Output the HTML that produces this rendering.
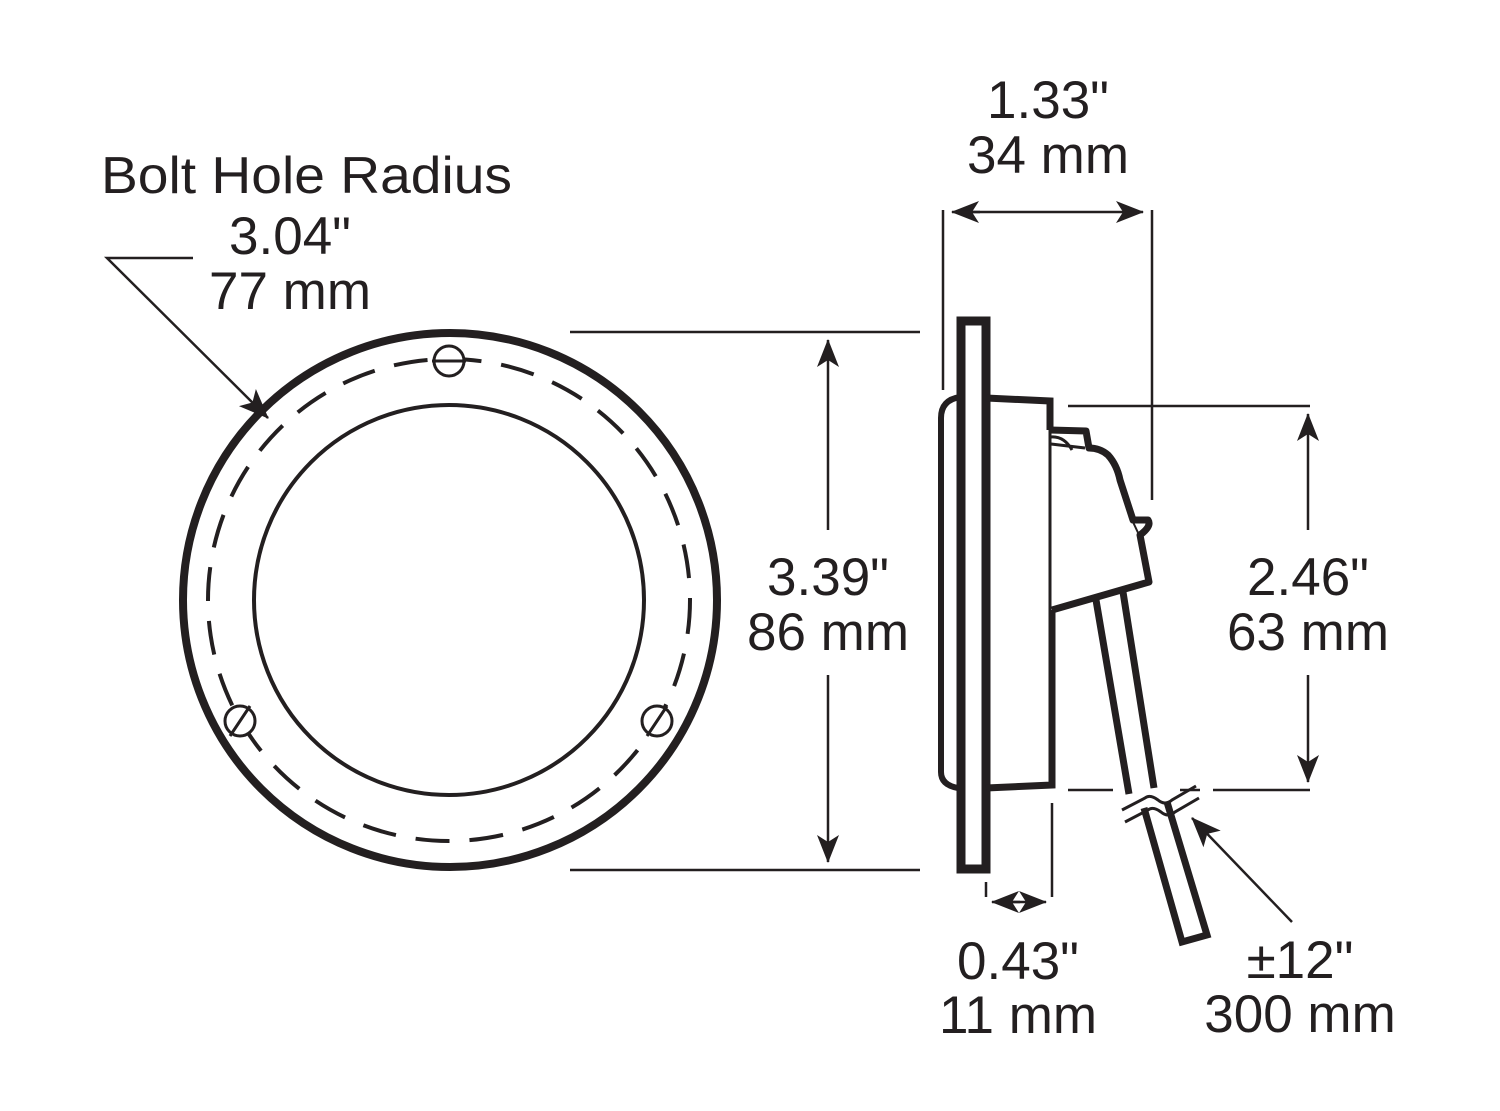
<!DOCTYPE html>
<html><head><meta charset="utf-8"><style>
html,body{margin:0;padding:0;background:#fff;}
svg{display:block;}
text{font-family:"Liberation Sans",Arial,sans-serif;fill:#231f20;}
</style></head><body>
<svg width="1500" height="1111" viewBox="0 0 1500 1111" xmlns="http://www.w3.org/2000/svg">
<defs>
<marker id="ah" viewBox="0 0 28 24" refX="27" refY="12" markerWidth="28" markerHeight="24" markerUnits="userSpaceOnUse" orient="auto">
<path d="M0,1 L28,12 L0,23 L7,12 Z" fill="#231f20"/></marker>
<marker id="ahL" viewBox="0 0 30 26" refX="29" refY="13" markerWidth="30" markerHeight="26" markerUnits="userSpaceOnUse" orient="auto">
<path d="M0,1 L30,13 L0,25 L7,13 Z" fill="#231f20"/></marker>
</defs>
<g stroke="#231f20" fill="none">
<circle cx="450" cy="600" r="267" stroke-width="8"/>
<circle cx="449" cy="600" r="195" stroke-width="4"/>
<circle cx="449" cy="600" r="241" stroke-width="4" stroke-dasharray="34,20"/>
<circle cx="449" cy="361" r="15" stroke-width="3" fill="#fff"/>
<line x1="432" y1="361" x2="466" y2="361" stroke-width="3"/>
<circle cx="240" cy="721" r="15" stroke-width="3" fill="#fff"/>
<line x1="230" y1="736" x2="250" y2="706" stroke-width="3"/>
<circle cx="657" cy="721" r="15" stroke-width="3" fill="#fff"/>
<line x1="647" y1="736" x2="667" y2="706" stroke-width="3"/>
<polyline points="193,258 107,258 268,418" stroke-width="2.5" marker-end="url(#ahL)"/>
<line x1="570" y1="332" x2="920" y2="332" stroke-width="2.5"/>
<line x1="570" y1="870" x2="920" y2="870" stroke-width="2.5"/>
<line x1="828" y1="530" x2="828" y2="340" stroke-width="2.5" marker-end="url(#ah)"/>
<line x1="828" y1="675" x2="828" y2="862" stroke-width="2.5" marker-end="url(#ah)"/>
<line x1="943" y1="210" x2="943" y2="390" stroke-width="2.5"/>
<line x1="1152" y1="210" x2="1152" y2="500" stroke-width="2.5"/>
<line x1="980" y1="212" x2="952" y2="212" stroke-width="2.5" marker-end="url(#ah)"/>
<line x1="960" y1="212" x2="1143" y2="212" stroke-width="2.5" marker-end="url(#ah)"/>
<line x1="1068" y1="406" x2="1310" y2="406" stroke-width="2.5"/>
<line x1="1068" y1="790" x2="1113" y2="790" stroke-width="2.5"/>
<line x1="1180" y1="790" x2="1200" y2="790" stroke-width="2.5"/>
<line x1="1213" y1="790" x2="1310" y2="790" stroke-width="2.5"/>
<line x1="1308" y1="530" x2="1308" y2="414" stroke-width="2.5" marker-end="url(#ah)"/>
<line x1="1308" y1="675" x2="1308" y2="782" stroke-width="2.5" marker-end="url(#ah)"/>
<line x1="1052" y1="803" x2="1052" y2="897" stroke-width="2.5"/>
<line x1="986" y1="882" x2="986" y2="897" stroke-width="2.5"/>
<line x1="1020" y1="902" x2="992" y2="902" stroke-width="2.5" marker-end="url(#ah)"/>
<line x1="1010" y1="902" x2="1046" y2="902" stroke-width="2.5" marker-end="url(#ah)"/>
<line x1="1292" y1="922" x2="1192" y2="818" stroke-width="2.5" marker-end="url(#ahL)"/>
<rect x="961" y="321" width="25" height="548" stroke-width="9"/>
<path d="M960,397 Q941,400 941,418 L941,772 Q941,785 958,788" stroke-width="6"/>
<line x1="961" y1="405" x2="961" y2="785" stroke-width="3"/>
<line x1="986" y1="405" x2="986" y2="785" stroke-width="3"/>
<path d="M986,398 L1050,401 L1050,430" stroke-width="7"/>
<path d="M986,788 L1052,785 L1052,610" stroke-width="7"/>
<line x1="1050" y1="430" x2="1050" y2="610" stroke-width="3"/>
<path d="M1050,430 L1086,431 L1089,448 Q1100,448 1108,455 Q1117,465 1120,480 L1133,520 L1148,520 Q1152,526 1140,535 L1149,582 L1052,610" stroke-width="7" stroke-linejoin="round"/>
<path d="M1051,437 Q1064,436 1072,450" stroke-width="3"/>
<line x1="1051" y1="444" x2="1085" y2="448" stroke-width="3"/>
<line x1="1133" y1="522" x2="1140" y2="537" stroke-width="2"/>
<path d="M1096,600 L1129,794 M1144,808 L1182,942 L1207,935 L1167,802 M1154,788 L1123,592" stroke-width="7"/>
<path d="M1122,810 L1145,798 Q1150,794 1158,800 Q1165,806 1172,800 L1196,786" stroke-width="3"/>
<path d="M1125,822 L1148,810 Q1153,806 1161,812 Q1168,818 1175,812 L1199,798" stroke-width="3"/>
</g>
<g font-size="53">
<text x="101" y="193" font-size="52" textLength="411" lengthAdjust="spacingAndGlyphs">Bolt Hole Radius</text>
<text x="290" y="254" text-anchor="middle">3.04"</text>
<text x="290" y="309" text-anchor="middle">77 mm</text>
<text x="1048" y="118" text-anchor="middle">1.33"</text>
<text x="1048" y="173" text-anchor="middle">34 mm</text>
<text x="828" y="595" text-anchor="middle">3.39"</text>
<text x="828" y="650" text-anchor="middle">86 mm</text>
<text x="1308" y="595" text-anchor="middle">2.46"</text>
<text x="1308" y="650" text-anchor="middle">63 mm</text>
<text x="1018" y="979" text-anchor="middle">0.43"</text>
<text x="1018" y="1033" text-anchor="middle">11 mm</text>
<text x="1300" y="978" text-anchor="middle">±12"</text>
<text x="1300" y="1032" text-anchor="middle">300 mm</text>
</g>
</svg>
</body></html>
